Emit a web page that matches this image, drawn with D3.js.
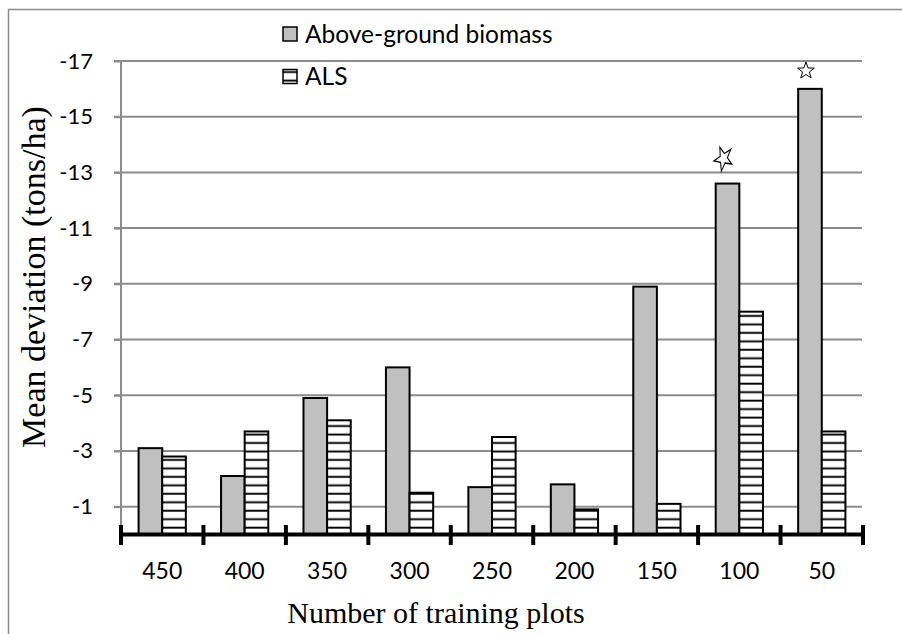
<!DOCTYPE html>
<html>
<head>
<meta charset="utf-8">
<script src="https://cdn.jsdelivr.net/npm/d3@7"></script>
<style>
  html, body { margin: 0; padding: 0; background: #fff; }
  svg { display: block; }
</style>
</head>
<body>
<svg id="chart" width="902" height="634"></svg>
<script>
// Training-set size vs. mean deviation of estimates
const categories = ["450", "400", "350", "300", "250", "200", "150", "100", "50"];
const biomass = [-3.1, -2.1, -4.9, -6.0, -1.7, -1.8, -8.9, -12.6, -16.0];
const als = [-2.8, -3.7, -4.1, -1.5, -3.5, -0.9, -1.1, -8.0, -3.7];
const seriesNames = ["Above-ground biomass", "ALS"];
const yTicks = [-1, -3, -5, -7, -9, -11, -13, -15, -17];
const starred = ["100", "50"];

const svg = d3.select("#chart");
const W = 902, H = 634;
const plot = { left: 121, right: 863, top: 61, bottom: 534.5 };

const sansFont = "Lato, 'Open Sans', sans-serif";
const serifFont = "'Liberation Serif', 'DejaVu Serif', serif";

// hatch pattern for the ALS series
const defs = svg.append("defs");
const pat = defs.append("pattern")
  .attr("id", "hlines")
  .attr("patternUnits", "userSpaceOnUse")
  .attr("width", 10).attr("height", 8.47);
pat.append("rect").attr("width", 10).attr("height", 8.47).attr("fill", "#fff");
pat.append("rect").attr("x", 0).attr("y", 1.6).attr("width", 10).attr("height", 1.9).attr("fill", "#000");

// outer frame
svg.append("rect")
  .attr("x", 8.5).attr("y", 9.5)
  .attr("width", W + 20).attr("height", H + 20)
  .attr("fill", "none").attr("stroke", "#8a8a8a").attr("stroke-width", 1.5);

const x = d3.scaleBand().domain(categories).range([plot.left, plot.right]).padding(0);
const xs = d3.scaleBand().domain(seriesNames).range([0, x.bandwidth()]).paddingInner(0).paddingOuter(0.745);
const y = d3.scaleLinear().domain([0, -17]).range([plot.bottom, plot.top]);

// gridlines
svg.append("g").selectAll("line").data(yTicks).join("line")
  .attr("x1", plot.left - 7).attr("x2", plot.right - 1)
  .attr("y1", d => y(d)).attr("y2", d => y(d))
  .attr("stroke", "#8c8c8c").attr("stroke-width", 2);

// y axis
const yAxis = svg.append("g")
  .attr("transform", `translate(${plot.left},0)`)
  .call(d3.axisLeft(y).tickValues(yTicks).tickSize(7).tickPadding(21).tickFormat(d3.format("d")));
yAxis.select(".domain").remove();
yAxis.selectAll(".tick line").attr("stroke", "#8c8c8c").attr("stroke-width", 2);
yAxis.selectAll(".tick text")
  .attr("font-family", sansFont).attr("font-size", 22).attr("fill", "#000")
  .text(d => d3.format("d")(d).replace("\u2212", "-"));
svg.append("line")
  .attr("x1", plot.left).attr("x2", plot.left)
  .attr("y1", y(-17)).attr("y2", plot.bottom)
  .attr("stroke", "#8c8c8c").attr("stroke-width", 2);

// bars
const rows = categories.map((c, i) => ({ cat: c, values: [biomass[i], als[i]] }));
const groups = svg.append("g").selectAll("g").data(rows).join("g")
  .attr("transform", d => `translate(${x(d.cat)},0)`);
groups.selectAll("rect").data(d => d.values.map((v, j) => ({ key: seriesNames[j], v }))).join("rect")
  .attr("x", d => xs(d.key))
  .attr("width", xs.bandwidth())
  .attr("y", d => y(d.v))
  .attr("height", d => y(0) - y(d.v))
  .attr("fill", d => d.key === "ALS" ? "url(#hlines)" : "#c0c0c0")
  .attr("stroke", "#000").attr("stroke-width", 2);

// star markers above the biomass bars
function starPath(R, r) {
  const pts = [];
  for (let k = 0; k < 10; k++) {
    const a = -Math.PI / 2 + k * Math.PI / 5;
    const rad = k % 2 === 0 ? R : r;
    pts.push([rad * Math.cos(a), rad * Math.sin(a)]);
  }
  return "M" + pts.map(p => p.join(",")).join("L") + "Z";
}
starred.forEach(c => {
  const i = categories.indexOf(c);
  const cx = x(c) + xs(seriesNames[0]) + xs.bandwidth() / 2 - 4;
  const top = y(biomass[i]);
  if (c === "100") {
    svg.append("path")
      .attr("d", starPath(9.5, 3.8))
      .attr("transform", `translate(${cx},${top - 25}) rotate(190) scale(1,1.35)`)
      .attr("fill", "#fff").attr("stroke", "#000").attr("stroke-width", 1);
  } else {
    svg.append("path")
      .attr("d", starPath(8.8, 3.6))
      .attr("transform", `translate(${cx},${top - 18})`)
      .attr("fill", "#fff").attr("stroke", "#000").attr("stroke-width", 1);
  }
});

// x axis
svg.append("line")
  .attr("x1", plot.left - 2).attr("x2", plot.right + 2)
  .attr("y1", plot.bottom).attr("y2", plot.bottom)
  .attr("stroke", "#000").attr("stroke-width", 4);
const bounds = categories.map(c => x(c)).concat([plot.right]);
svg.append("g").selectAll("line").data(bounds).join("line")
  .attr("x1", d => d).attr("x2", d => d)
  .attr("y1", plot.bottom - 9.5).attr("y2", plot.bottom + 10.5)
  .attr("stroke", "#000").attr("stroke-width", 4);
const xAxis = svg.append("g")
  .attr("transform", `translate(0,${plot.bottom})`)
  .call(d3.axisBottom(x).tickSize(0).tickPadding(0));
xAxis.select(".domain").remove();
xAxis.selectAll(".tick text")
  .attr("y", 36).attr("dy", "0.35em")
  .attr("font-family", sansFont).attr("font-size", 23).attr("fill", "#000");

// axis titles
svg.append("text")
  .attr("x", 436).attr("y", 623)
  .attr("text-anchor", "middle")
  .attr("font-family", serifFont).attr("font-size", 30).attr("fill", "#000")
  .text("Number of training plots");
svg.append("text")
  .attr("transform", "translate(45,277) rotate(-90)")
  .attr("text-anchor", "middle")
  .attr("font-family", serifFont).attr("font-size", 34).attr("fill", "#000")
  .text("Mean deviation (tons/ha)");

// legend
const legend = svg.append("g").selectAll("g").data(seriesNames).join("g")
  .attr("transform", (d, i) => `translate(283,${27 + i * 42.5})`);
legend.append("rect")
  .attr("width", 14).attr("height", 14)
  .attr("fill", d => d === "ALS" ? "url(#hlines)" : "#c0c0c0")
  .attr("stroke", "#000").attr("stroke-width", 1.5);
legend.append("text")
  .attr("x", 22).attr("y", 7).attr("dy", "0.35em")
  .attr("font-family", sansFont).attr("font-size", 24.5).attr("fill", "#000")
  .text(d => d);
</script>
</body>
</html>
